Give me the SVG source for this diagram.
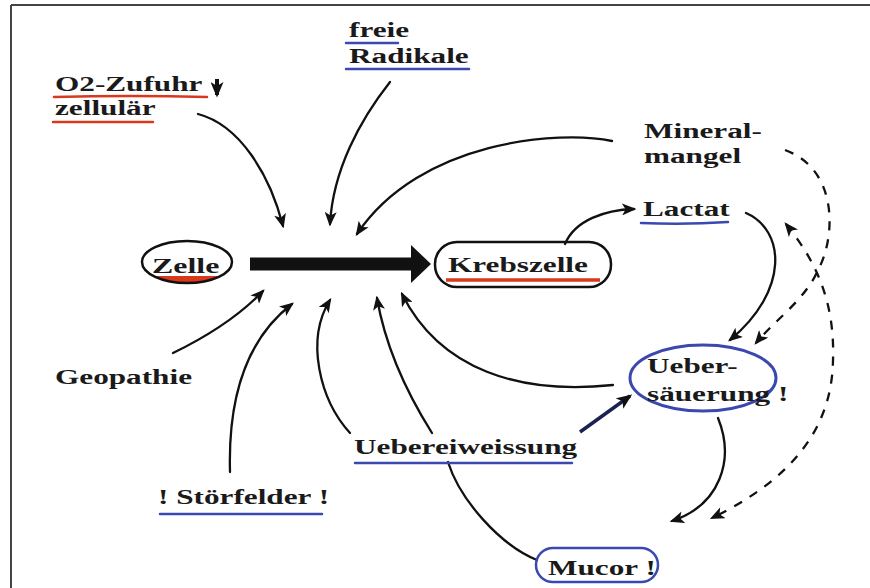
<svg xmlns="http://www.w3.org/2000/svg" width="870" height="588" viewBox="0 0 870 588">
<style>
.t{font-family:"Liberation Serif","Times New Roman",serif;font-weight:bold;font-size:22px;fill:#1a1a1a}
.c{fill:none;stroke:#111;stroke-width:2.3;stroke-linecap:round}
.d{fill:none;stroke:#111;stroke-width:2.3;stroke-dasharray:9 9}
.ur{stroke:#d8381c;stroke-width:2.5;fill:none;stroke-linecap:round}
.ub{stroke:#3a48b0;stroke-width:2.5;fill:none;stroke-linecap:round}
</style>
<defs>
<marker id="ah" viewBox="0 0 12 10" refX="10" refY="5" markerWidth="15" markerHeight="12" markerUnits="userSpaceOnUse" orient="auto-start-reverse">
<path d="M0,0 L12,5 L0,10 L3,5 z" fill="#111"/>
</marker>
<marker id="ahb" viewBox="0 0 12 10" refX="10" refY="5" markerWidth="16" markerHeight="13" markerUnits="userSpaceOnUse" orient="auto">
<path d="M0,0 L12,5 L0,10 L3,5 z" fill="#111"/>
</marker>
<clipPath id="zclip"><ellipse cx="187" cy="262" rx="45" ry="21"/></clipPath>
</defs>
<rect width="870" height="588" fill="#fff"/>
<g id="frame" stroke="#444" stroke-width="2">
<line x1="11" y1="5" x2="870" y2="5"/>
<line x1="11" y1="5" x2="11" y2="588"/>
</g>
<g id="connectors">
<path class="c" d="M198 114 C240 125,270 175,283 226" marker-end="url(#ah)"/>
<path class="c" d="M390 82 C360 120,333 170,330 224" marker-end="url(#ah)"/>
<path class="c" d="M612 141 C560 130,420 140,357 234" marker-end="url(#ah)"/>
<path class="c" d="M173 353 C210 335,240 315,263 291" marker-end="url(#ah)"/>
<path class="c" d="M230 472 C228 400,245 340,292 304" marker-end="url(#ah)"/>
<path class="c" d="M350 433 C320 400,305 340,330 300" marker-end="url(#ah)"/>
<path class="c" d="M432 433 C405 390,385 345,377 298" marker-end="url(#ah)"/>
<path class="c" d="M613 385 C520 395,440 370,402 294" marker-end="url(#ah)"/>
<path class="c" d="M565 244 C575 220,605 210,634 209" marker-end="url(#ah)"/>
<path class="c" d="M746 213 C785 230,790 290,730 340" marker-end="url(#ah)"/>
<path class="c" d="M718 418 C735 460,720 505,672 521" marker-end="url(#ah)"/>
<path d="M580 432 L630 396" stroke="#1c2250" stroke-width="3.5" fill="none" marker-end="url(#ahb)"/>
<path class="c" d="M448 462 C460 500,500 545,537 560"/>
<path class="d" d="M785 150 C840 170,835 240,818 270 C805 300,775 320,756 343" marker-end="url(#ah)"/>
<path class="d" d="M786 224 C815 260,835 300,833 360 C832 430,790 480,712 518" marker-start="url(#ah)" marker-end="url(#ah)"/>
<path d="M217 79 L217 95" stroke="#111" stroke-width="4" marker-end="url(#ahb)"/>
</g>
<g id="n-zelle">
<rect x="140" y="276" width="95" height="10" fill="#d8381c" clip-path="url(#zclip)"/>
<ellipse cx="187" cy="262" rx="45" ry="21" fill="none" stroke="#111" stroke-width="2.5"/>
<text class="t" transform="translate(152 273) scale(1.45 1)">Zelle</text>
</g>
<g id="main-arrow">
<line x1="250" y1="264" x2="414" y2="264" stroke="#111" stroke-width="13"/>
<path d="M411 245 L431 264 L411 283 Z" fill="#111"/>
</g>
<g id="n-krebszelle">
<line x1="446" y1="280" x2="600" y2="280" stroke="#d8381c" stroke-width="3.5"/>
<rect x="435" y="242" width="176" height="45" rx="22" fill="none" stroke="#111" stroke-width="2.5"/>
<text class="t" transform="translate(448 272) scale(1.42 1)">Krebszelle</text>
</g>
<g id="n-o2">
<text class="t" transform="translate(55 91) scale(1.42 1)">O2-Zufuhr</text>
<text class="t" transform="translate(55 115) scale(1.42 1)">zellulär</text>
<path class="ur" d="M54 97 Q130 95 207 97"/>
<path class="ur" d="M53 122 L153 122"/>
</g>
<g id="n-radikale">
<text class="t" transform="translate(349 37) scale(1.42 1)">freie</text>
<text class="t" transform="translate(349 63) scale(1.42 1)">Radikale</text>
<path class="ub" d="M346 43 L398 43"/>
<path class="ub" d="M346 69 L469 69"/>
</g>
<g id="n-mineral">
<text class="t" transform="translate(644 138) scale(1.42 1)">Mineral-</text>
<text class="t" transform="translate(644 163) scale(1.42 1)">mangel</text>
</g>
<g id="n-lactat">
<text class="t" transform="translate(643 216) scale(1.42 1)">Lactat</text>
<path class="ub" d="M641 223 Q685 225 728 222"/>
</g>
<g id="n-geopathie">
<text class="t" transform="translate(55 384) scale(1.42 1)">Geopathie</text>
</g>
<g id="n-stoerfelder">
<text class="t" transform="translate(158 504) scale(1.42 1)">! Störfelder !</text>
<path class="ub" d="M160 514 L322 514"/>
</g>
<g id="n-uebereiweissung">
<text class="t" transform="translate(354 454) scale(1.42 1)">Uebereiweissung</text>
<path class="ub" d="M355 463 L572 463"/>
</g>
<g id="n-uebersaeuerung">
<ellipse cx="703" cy="378" rx="73" ry="33" fill="none" stroke="#3a48b0" stroke-width="3"/>
<text class="t" transform="translate(647 373) scale(1.42 1)">Ueber-</text>
<text class="t" transform="translate(647 401) scale(1.42 1)">säuerung !</text>
</g>
<g id="n-mucor">
<rect x="536" y="548" width="122" height="34" rx="17" fill="none" stroke="#3a48b0" stroke-width="2.5"/>
<text class="t" transform="translate(548 575) scale(1.42 1)">Mucor !</text>
</g>
</svg>
